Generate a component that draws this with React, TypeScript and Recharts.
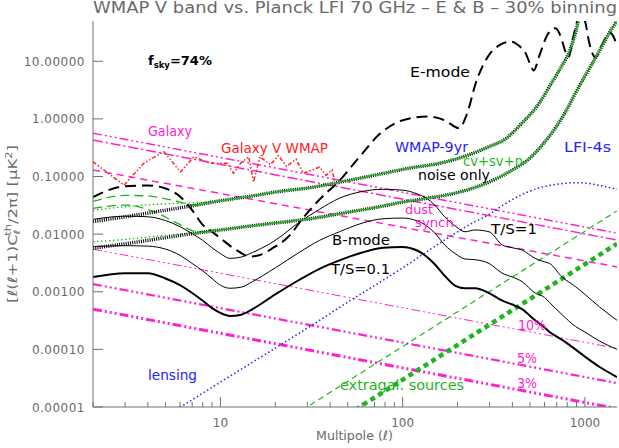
import React from 'react';
import { LineChart, Line, XAxis, YAxis } from 'recharts';

type Pt = { l: number; v: number };
const pts = (ls: number[], vs: number[]): Pt[] => ls.map((l, i) => ({ l, v: vs[i] }));

const W = 619;
const H = 448;
const FONT = '"DejaVu Sans", sans-serif';
const AXIS = '#707070';
const GRAY_TEXT = '#6a6a6a';
const MAGENTA = '#ff22cc';
const GREEN = '#1fb51f';
const BLUE = '#2222ff';
const RED = '#ff2222';

// axis ticks
const X_TICKS = [2, 3, 4, 5, 6, 7, 8, 9, 10, 20, 30, 40, 50, 60, 70, 80, 90, 100, 200, 300, 400, 500, 600, 700, 800, 900, 1000];
const X_LABELED = [10, 100, 1000];
const Y_TICKS = [0.00001, 0.0001, 0.001, 0.01, 0.1, 1, 10];

// E-mode spectrum
const EE_L = [2, 3, 4, 5, 6, 7, 8, 9, 10, 12, 14.6, 17, 19, 24, 28, 35, 45, 58, 75, 100, 136, 170, 204, 225, 252, 298, 340, 391, 440, 472, 500, 524, 560, 620, 689, 740, 780, 815, 860, 944, 1000, 1060, 1140, 1250, 1377, 1450, 1500];
const EE_V = [0.044, 0.068, 0.07, 0.062, 0.045, 0.026, 0.0145, 0.011, 0.0085, 0.0055, 0.0041, 0.0045, 0.0055, 0.0095, 0.018, 0.04, 0.085, 0.22, 0.55, 0.95, 1.1, 0.95, 0.69, 1.2, 4.2, 12.9, 19, 22, 18, 14, 9, 6.9, 12, 28, 37.6, 26, 15, 12, 25, 65, 50, 20, 11.7, 20, 31, 25, 18];

// B-mode spectra, T/S = 1, 0.3, 0.1
const BB_L = [2, 3, 4, 5, 6, 7, 8, 9, 10, 11.3, 13, 15, 20, 27, 35, 45, 60, 78, 100, 120, 135, 150, 170, 196, 220, 250, 298, 352, 400, 452, 533, 600, 640, 750, 887, 1000, 1200, 1500];
const BB_TS1 = [0.018, 0.0205, 0.02, 0.0172, 0.0135, 0.0102, 0.0078, 0.0058, 0.0046, 0.0038, 0.004, 0.0048, 0.0078, 0.016, 0.027, 0.042, 0.055, 0.06, 0.058, 0.05, 0.042, 0.032, 0.02, 0.0135, 0.011, 0.0118, 0.011, 0.0065, 0.0058, 0.0053, 0.0038, 0.0033, 0.0031, 0.0018, 0.00123, 0.0009, 0.00055, 0.00032];
const BB_TS03 = [0.0061, 0.0063, 0.0062, 0.0055, 0.0043, 0.0031, 0.0023, 0.0017, 0.0013, 0.00115, 0.0012, 0.0015, 0.0026, 0.0048, 0.0078, 0.011, 0.0155, 0.0185, 0.019, 0.017, 0.014, 0.0105, 0.0065, 0.0045, 0.0037, 0.0036, 0.0031, 0.0021, 0.0018, 0.0015, 0.00095, 0.0008, 0.00065, 0.0004, 0.00025, 0.0002, 0.00014, 0.0001];
const BB_TS01 = [0.0018, 0.0021, 0.0021, 0.0017, 0.0013, 0.00095, 0.0007, 0.00052, 0.00043, 0.00038, 0.0004, 0.0005, 0.0009, 0.0016, 0.0025, 0.0035, 0.0048, 0.0058, 0.006, 0.0052, 0.0041, 0.003, 0.0019, 0.00125, 0.00115, 0.00115, 0.00095, 0.0007, 0.0006, 0.0005, 0.00032, 0.00024, 0.0002, 0.000146, 0.0001, 0.000075, 0.00005, 0.000033];

// lensing B-modes
const LENS_L = [5.5, 10, 20, 31, 50, 100, 159, 241, 298, 367, 557, 700, 887, 1000, 1200, 1500];
const LENS_V = [0.0000083, 0.000027, 0.000105, 0.00025, 0.00066, 0.0026, 0.0069, 0.0155, 0.022, 0.034, 0.063, 0.073, 0.078, 0.077, 0.07, 0.06];

// noise only
const WMAP_L = [2, 3, 5, 7, 10, 15, 21, 31, 50, 75, 109, 160, 241, 298, 367, 452, 557, 650, 750, 815, 870, 923, 960];
const WMAP_V = [0.0165, 0.02, 0.026, 0.031, 0.038, 0.046, 0.055, 0.064, 0.085, 0.11, 0.14, 0.17, 0.25, 0.33, 0.45, 0.85, 1.8, 4, 8.5, 13.8, 25, 51, 80];
const LFI_L = [2, 3, 5, 7, 10, 15, 20, 31, 50, 75, 100, 137, 181, 240, 298, 400, 500, 582, 700, 800, 887, 1000, 1200, 1350, 1490, 1550];
const LFI_V = [0.0057, 0.0068, 0.0087, 0.0102, 0.0118, 0.014, 0.0156, 0.0185, 0.024, 0.03, 0.036, 0.042, 0.049, 0.062, 0.08, 0.13, 0.21, 0.35, 0.75, 1.5, 2.8, 5.5, 15, 30, 49, 60];

// cv+sv+n at low multipoles
const CV_E_WMAP_L = [2, 3, 4, 5, 6, 7, 8];
const CV_E_WMAP_V = [0.037, 0.047, 0.046, 0.041, 0.036, 0.032, 0.0335];
const CV_E_LFI_L = [2, 3, 4.3, 5.8, 7.5, 9];
const CV_E_LFI_V = [0.028, 0.032, 0.0246, 0.0155, 0.011, 0.0113];
const CV_B_WMAP_L = [2, 3, 4.5, 6.85, 9];
const CV_B_WMAP_V = [0.026, 0.03, 0.033, 0.035, 0.036];
const CV_B_LFI_L = [2, 3, 4.5, 6.85, 10];
const CV_B_LFI_V = [0.0074, 0.0081, 0.0093, 0.0104, 0.0118];

// foregrounds
const FG_L = [2, 1500];
const GALAXY_A = [0.565, 0.0104];
const GALAXY_B = [0.43, 0.0079];
const DUST_SYNCH = [0.13, 0.0027];
const RES_10 = [0.0055, 0.000104];
const RES_5 = [0.00136, 0.000026];
const RES_3 = [0.0005, 0.0000094];
const SRC_THIN_L = [25, 1500];
const SRC_THIN_V = [0.000007, 0.0253];
const SRC_THICK_L = [50, 1500];
const SRC_THICK_V = [0.0000074, 0.0068];

const GAL_WMAP_L = [2, 2.96, 3.8, 4.9, 6.04, 7.15, 8.8, 10.9, 11.8, 12.9, 14.3, 15.2, 16.5, 18.8, 20.8, 23.1, 26, 28.5, 32, 35, 38, 41, 42.5];
const GAL_WMAP_V = [0.18, 0.071, 0.17, 0.27, 0.12, 0.22, 0.17, 0.17, 0.114, 0.17, 0.22, 0.081, 0.22, 0.16, 0.23, 0.15, 0.2, 0.114, 0.13, 0.146, 0.105, 0.13, 0.078];

function BottomTick(props: any) {
  const { x, y, payload } = props;
  const major = X_LABELED.includes(payload.value);
  return (
    <g>
      <line x1={x} x2={x} y1={y} y2={y - (major ? 10 : 5)} stroke={AXIS} />
      {major && (
        <text x={x} y={y + 20} textAnchor="middle" fill={GRAY_TEXT} fontSize={12} fontFamily={FONT}>
          {payload.value}
        </text>
      )}
    </g>
  );
}

function TopTick(props: any) {
  const { x, y, payload } = props;
  const major = X_LABELED.includes(payload.value);
  return <line x1={x} x2={x} y1={y} y2={y + (major ? 10 : 5)} stroke={AXIS} />;
}

function LeftTick(props: any) {
  const { x, y, payload } = props;
  return (
    <g>
      <line x1={x} x2={x + 10} y1={y} y2={y} stroke={AXIS} />
      <text x={x - 8} y={y + 4.5} textAnchor="end" fill={GRAY_TEXT} fontSize={12} fontFamily={FONT} letterSpacing={0.5}>
        {Number(payload.value).toFixed(5)}
      </text>
    </g>
  );
}

function RightTick(props: any) {
  const { x, y } = props;
  return <line x1={x} x2={x - 10} y1={y} y2={y} stroke={AXIS} />;
}

function Label({ x, y, w, color, children, size = 13.5 }: any) {
  return (
    <text x={x} y={y} textLength={w} lengthAdjust="spacingAndGlyphs" fill={color} fontSize={size} fontFamily={FONT}>
      {children}
    </text>
  );
}

const line = (key: string, data: Pt[], stroke: string, width: number, dash?: string, type: any = 'monotone') => (
  <Line
    key={key}
    data={data}
    dataKey="v"
    type={type}
    stroke={stroke}
    strokeWidth={width}
    strokeDasharray={dash}
    dot={false}
    activeDot={false}
    isAnimationActive={false}
  />
);

export default function App() {
  return (
    <div style={{ position: 'absolute', left: 0, top: 0, width: W, height: H, background: '#fff' }}>
      <LineChart width={W} height={H} margin={{ top: 21, right: 2, bottom: 0, left: 0 }}>
        <XAxis
          dataKey="l"
          type="number"
          scale="log"
          domain={[2, 1500]}
          allowDataOverflow
          ticks={X_TICKS}
          interval={0}
          height={41}
          tickSize={0}
          tickMargin={0}
          tickLine={false}
          tick={<BottomTick />}
          stroke={AXIS}
        />
        <XAxis
          xAxisId="top"
          orientation="top"
          dataKey="l"
          type="number"
          scale="log"
          domain={[2, 1500]}
          allowDataOverflow
          ticks={X_TICKS}
          interval={0}
          height={0}
          tickSize={0}
          tickMargin={0}
          tickLine={false}
          tick={<TopTick />}
          stroke={AXIS}
        />
        <YAxis
          dataKey="v"
          type="number"
          scale="log"
          domain={[0.00001, 50]}
          allowDataOverflow
          ticks={Y_TICKS}
          interval={0}
          width={93}
          tickSize={0}
          tickMargin={0}
          tickLine={false}
          tick={<LeftTick />}
          stroke={AXIS}
        />
        <YAxis
          yAxisId="right"
          orientation="right"
          dataKey="v"
          type="number"
          scale="log"
          domain={[0.00001, 50]}
          allowDataOverflow
          ticks={Y_TICKS}
          interval={0}
          width={0}
          tickSize={0}
          tickMargin={0}
          tickLine={false}
          tick={<RightTick />}
          stroke="#9a9a9a"
          strokeWidth={2}
        />

        {line('gal-a', pts(FG_L, GALAXY_A), MAGENTA, 1.5, '9 3 2 3 2 3 2 3', 'linear')}
        {line('gal-b', pts(FG_L, GALAXY_B), MAGENTA, 1.5, '10 3 2 3', 'linear')}
        {line('dust', pts(FG_L, DUST_SYNCH), MAGENTA, 1.5, '7 5', 'linear')}
        {line('res10', pts(FG_L, RES_10), MAGENTA, 1, '9 3 2 3 2 3 2 3', 'linear')}
        {line('res5', pts(FG_L, RES_5), MAGENTA, 2.2, '9 3 2 3 2 3 2 3', 'linear')}
        {line('res3', pts(FG_L, RES_3), MAGENTA, 3, '9 3 2 3 2 3 2 3', 'linear')}
        {line('gal-wmap', pts(GAL_WMAP_L, GAL_WMAP_V), RED, 1.5, '4 2 1.5 2 1.5 2', 'linear')}

        {line('src-thin', pts(SRC_THIN_L, SRC_THIN_V), GREEN, 1.2, '6 4', 'linear')}
        {line('src-thick', pts(SRC_THICK_L, SRC_THICK_V), GREEN, 4.5, '5 4', 'linear')}
        {line('lens', pts(LENS_L, LENS_V), BLUE, 1.5, '1.5 2.5')}

        {line('cv-e-wmap', pts(CV_E_WMAP_L, CV_E_WMAP_V), GREEN, 1.3, '9 5')}
        {line('cv-e-lfi', pts(CV_E_LFI_L, CV_E_LFI_V), GREEN, 1.3, '9 5')}
        {line('cv-b-wmap', pts(CV_B_WMAP_L, CV_B_WMAP_V), GREEN, 1.3, '1.5 2.5')}
        {line('cv-b-lfi', pts(CV_B_LFI_L, CV_B_LFI_V), GREEN, 1.3, '1.5 2.5')}

        {line('bb1', pts(BB_L, BB_TS1), '#000', 1)}
        {line('bb03', pts(BB_L, BB_TS03), '#000', 1)}
        {line('bb01', pts(BB_L, BB_TS01), '#000', 2)}
        {line('ee', pts(EE_L, EE_V), '#000', 2, '11 6')}

        {line('n-wmap', pts(WMAP_L, WMAP_V), '#000', 3.5, '1 1.2')}
        {line('n-lfi', pts(LFI_L, LFI_V), '#000', 3.5, '1 1.2')}
        {line('g-wmap', pts(WMAP_L.slice(3), WMAP_V.slice(3)), GREEN, 1.5)}
        {line('g-lfi', pts(LFI_L.slice(3), LFI_V.slice(3)), GREEN, 1.5)}
      </LineChart>

      <svg width={W} height={H} style={{ position: 'absolute', left: 0, top: 0, pointerEvents: 'none' }}>
        <text x={93} y={13} textLength={524} lengthAdjust="spacingAndGlyphs" fill={GRAY_TEXT} fontSize={15} fontFamily={FONT}>
          WMAP V band vs. Planck LFI 70 GHz – E &amp; B – 30% binning
        </text>
        <text x={148} y={65} fill="#000" fontSize={13} fontWeight="bold" fontFamily={FONT}>
          f<tspan fontSize={8.5} dy={3}>sky</tspan>
          <tspan dy={-3}>=74%</tspan>
        </text>
        <Label x={410} y={77} w={60} color="#000">E-mode</Label>
        <Label x={148} y={136} w={44} color={MAGENTA}>Galaxy</Label>
        <Label x={221} y={153} w={107} color={RED}>Galaxy V WMAP</Label>
        <Label x={395} y={152} w={73} color={BLUE}>WMAP-9yr</Label>
        <Label x={564} y={152} w={47} color={BLUE}>LFI-4s</Label>
        <Label x={463} y={166} w={60} color={GREEN}>cv+sv+n</Label>
        <Label x={418} y={180} w={72} color="#000">noise only</Label>
        <Label x={405} y={214} w={28} color={MAGENTA} size={11.5}>dust</Label>
        <Label x={415} y={227} w={43} color={MAGENTA} size={11.5}>synch.</Label>
        <Label x={332} y={245} w={58} color="#000">B-mode</Label>
        <Label x={491} y={234} w={46} color="#000">T/S=1</Label>
        <Label x={331} y={274} w={59} color="#000">T/S=0.1</Label>
        <Label x={518} y={330} w={28} color={MAGENTA}>10%</Label>
        <Label x={517} y={363} w={20} color={MAGENTA}>5%</Label>
        <Label x={517} y={388} w={20} color={MAGENTA}>3%</Label>
        <Label x={148} y={380} w={49} color={BLUE}>lensing</Label>
        <Label x={340} y={390} w={124} color={GREEN}>extragal. sources</Label>
        <Label x={316} y={440} w={77} color={GRAY_TEXT} size={13}>Multipole (ℓ)</Label>
        <text
          transform="translate(17,224) rotate(-90)"
          textAnchor="middle"
          textLength={158}
          lengthAdjust="spacingAndGlyphs"
          fill={GRAY_TEXT}
          fontSize={13}
          fontFamily={FONT}
        >
          [ℓ(ℓ+1)C<tspan fontSize={9} dy={3}>ℓ</tspan>
          <tspan fontSize={9} dx={-5} dy={-9}>th</tspan>
          <tspan dy={6}>/2π] [μK</tspan>
          <tspan fontSize={9} dy={-5}>2</tspan>
          <tspan dy={5}>]</tspan>
        </text>
      </svg>
    </div>
  );
}
